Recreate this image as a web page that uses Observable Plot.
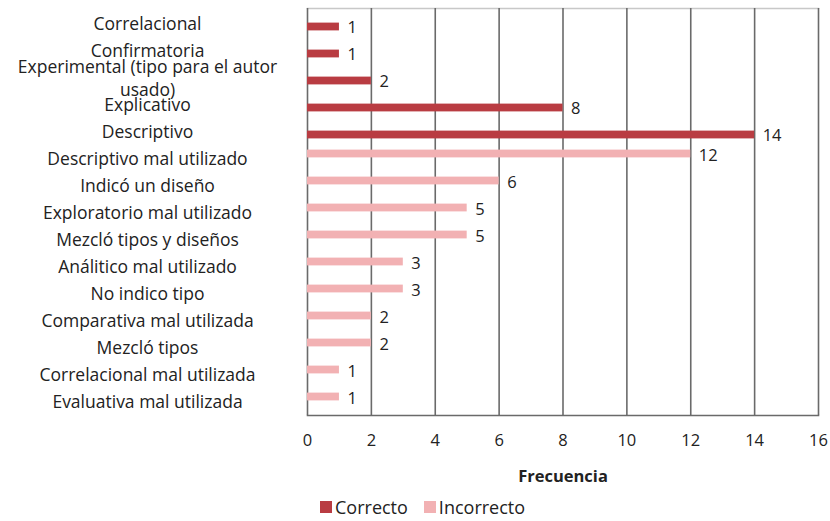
<!DOCTYPE html>
<html>
<head>
<meta charset="utf-8">
<script src="https://cdn.jsdelivr.net/npm/d3@7"></script>
<script src="https://cdn.jsdelivr.net/npm/@observablehq/plot@0.6"></script>
<style>
  body { margin: 0; background: #fff; font-family: "Open Sans", sans-serif; }
  #chart svg { overflow: visible; }
  #legend { margin-left: 320px; padding-top: 0px; }
  .leg-swatch > svg { margin-right: 3px !important; }
  .leg-swatch { margin-right: 16px !important; }
</style>
</head>
<body>
<div id="chart"></div>
<div id="legend"></div>
<script>
const categories = [
  "Correlacional",
  "Confirmatoria",
  "Experimental (tipo para el autor usado)",
  "Explicativo",
  "Descriptivo",
  "Descriptivo mal utilizado",
  "Indicó un diseño",
  "Exploratorio mal utilizado",
  "Mezcló tipos y diseños",
  "Análitico mal utilizado",
  "No indico tipo",
  "Comparativa mal utilizada",
  "Mezcló tipos",
  "Correlacional mal utilizada",
  "Evaluativa mal utilizada"
];
const values = [1, 1, 2, 8, 14, 12, 6, 5, 5, 3, 3, 2, 2, 1, 1];
const series = ["Correcto", "Correcto", "Correcto", "Correcto", "Correcto",
  "Incorrecto", "Incorrecto", "Incorrecto", "Incorrecto", "Incorrecto",
  "Incorrecto", "Incorrecto", "Incorrecto", "Incorrecto", "Incorrecto"];
const seriesNames = ["Correcto", "Incorrecto"];
const seriesColors = ["#b93c42", "#f2b1b3"];
const xTicks = [0, 2, 4, 6, 8, 10, 12, 14, 16];

const data = categories.map((c, i) => ({category: c, value: values[i], series: series[i]}));
const correcto = data.filter(d => d.series === "Correcto");
const incorrecto = data.filter(d => d.series === "Incorrecto");

const longLabel = "Experimental (tipo para el autor usado)";

const chart = Plot.plot({
  width: 830,
  height: 490,
  marginLeft: 307,
  marginRight: 12,
  marginTop: 8,
  marginBottom: 75,
  style: {fontFamily: "Open Sans, sans-serif", fontSize: "16px", color: "#222", background: "#fff"},
  x: {domain: [0, 16]},
  y: {domain: categories, padding: 0},
  color: {domain: seriesNames, range: seriesColors},
  marks: [
    Plot.frame({anchor: "top", stroke: "#c8c8c8", strokeWidth: 1.5}),
    Plot.ruleX(xTicks, {stroke: "#6a6a6a", strokeWidth: 1.6}),
    Plot.frame({anchor: "bottom", stroke: "#6a6a6a", strokeWidth: 1.6}),
    Plot.barX(correcto, {x: "value", y: "category", fill: "series", insetTop: 9.6, insetBottom: 9.6, dy: 4}),
    Plot.barX(incorrecto, {x: "value", y: "category", fill: "series", insetTop: 9.6, insetBottom: 9.6, dy: -4}),
    Plot.text(correcto, {x: "value", y: "category", text: d => String(d.value), textAnchor: "start", dx: 8, dy: 5, fill: "#222", fontSize: 16.5}),
    Plot.text(incorrecto, {x: "value", y: "category", text: d => String(d.value), textAnchor: "start", dx: 8, dy: -2, fill: "#222", fontSize: 16.5}),
    Plot.axisY({
      tickSize: 0,
      tickPadding: 160,
      textAnchor: "middle",
      label: null,
      fontSize: 17.5,
      lineHeight: 1.3,
      tickFormat: d => d === longLabel ? "Experimental (tipo para el autor\nusado)" : d
    }),
    Plot.axisX({
      ticks: xTicks,
      tickSize: 0,
      tickPadding: 19,
      fontSize: 16.5,
      label: "Frecuencia",
      labelAnchor: "center",
      labelOffset: 66,
      labelArrow: "none"
    })
  ]
});
document.getElementById("chart").append(chart);
chart.querySelectorAll("g[aria-label='x-axis label'] text").forEach(t => t.setAttribute("font-weight", "bold"));

const legend = Plot.legend({
  color: {domain: seriesNames, range: seriesColors},
  swatchSize: 12,
  className: "leg",
  style: {fontFamily: "Open Sans, sans-serif", fontSize: "18px", color: "#222"}
});
document.getElementById("legend").append(legend);
</script>
</body>
</html>
